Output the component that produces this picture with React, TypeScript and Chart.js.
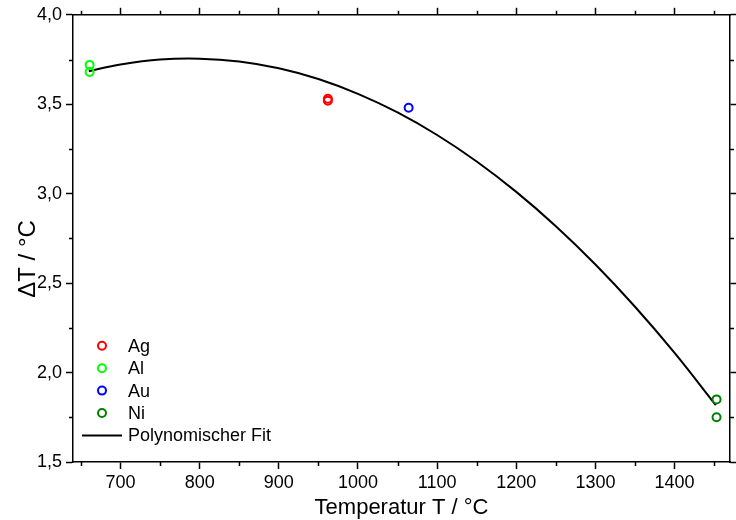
import { useEffect, useRef } from "react";
import { Chart, registerables } from "chart.js";

Chart.register(...registerables);

// Data (Temperatur T / °C  vs  ΔT / °C)
const agT = [962, 962];
const agDT = [3.53, 3.52];
const alT = [661, 661];
const alDT = [3.72, 3.68];
const auT = [1064];
const auDT = [3.48];
const niT = [1453, 1453];
const niDT = [1.85, 1.75];

const fitT = [660, 700, 750, 800, 850, 900, 950, 1000, 1050, 1100, 1150, 1200, 1250, 1300, 1350, 1400, 1452];
const fitDT = [3.685, 3.722, 3.75, 3.755, 3.739, 3.701, 3.641, 3.558, 3.454, 3.328, 3.18, 3.01, 2.818, 2.604, 2.368, 2.11, 1.818];

const xMajor = [700, 800, 900, 1000, 1100, 1200, 1300, 1400];
const xMinor = [650, 750, 850, 950, 1050, 1150, 1250, 1350, 1450];
const yMajor = [1.5, 2.0, 2.5, 3.0, 3.5, 4.0];
const yMinor = [1.75, 2.25, 2.75, 3.25, 3.75];

const xTitle = "Temperatur T / °C";
const yTitle = "ΔT / °C";
const fitLabel = "Polynomischer Fit";

const FONT = "'Liberation Sans', Arial, sans-serif";

const toPts = (xs: number[], ys: number[]) => xs.map((x, i) => ({ x, y: ys[i] }));

const extrasPlugin = {
  id: "extras",
  afterDraw(chart: any) {
    const ctx = chart.ctx;
    const area = chart.chartArea;
    const sx = chart.scales.x;
    const sy = chart.scales.y;
    ctx.save();
    // minor ticks
    ctx.strokeStyle = "#000";
    ctx.lineWidth = 1.5;
    const mLen = 4;
    ctx.beginPath();
    xMinor.forEach((v) => {
      const p = Math.round(sx.getPixelForValue(v)) + 0.5;
      ctx.moveTo(p, area.bottom);
      ctx.lineTo(p, area.bottom + mLen);
      ctx.moveTo(p, area.top);
      ctx.lineTo(p, area.top - mLen);
    });
    yMinor.forEach((v) => {
      const p = Math.round(sy.getPixelForValue(v)) + 0.5;
      ctx.moveTo(area.left, p);
      ctx.lineTo(area.left - mLen, p);
      ctx.moveTo(area.right, p);
      ctx.lineTo(area.right + mLen, p);
    });
    ctx.stroke();

    // axis titles
    ctx.fillStyle = "#000";
    ctx.font = `22px ${FONT}`;
    ctx.textAlign = "center";
    ctx.textBaseline = "middle";
    ctx.fillText(xTitle, (area.left + area.right) / 2, 508);
    ctx.save();
    ctx.translate(28, 259);
    ctx.rotate(-Math.PI / 2);
    ctx.font = `24px ${FONT}`;
    ctx.fillText(yTitle, 0, 0);
    ctx.restore();

    // legend
    const ds = chart.data.datasets;
    const rowH = 22.4;
    let y = area.top + 331;
    ctx.font = `18px ${FONT}`;
    ctx.textAlign = "left";
    ds.forEach((d: any) => {
      ctx.strokeStyle = d.borderColor;
      ctx.lineWidth = d.borderWidth;
      ctx.beginPath();
      if (d.showLine) {
        ctx.moveTo(area.left + 9, y);
        ctx.lineTo(area.left + 49, y);
      } else {
        ctx.arc(area.left + 29, y, d.pointRadius, 0, Math.PI * 2);
      }
      ctx.stroke();
      ctx.fillStyle = "#000";
      ctx.fillText(d.label, area.left + 55, y + 1);
      y += rowH;
    });
    ctx.restore();
  },
};

export default function App() {
  const ref = useRef<HTMLCanvasElement | null>(null);

  useEffect(() => {
    if (!ref.current) return;
    const fmtY = (v: any) => Number(v).toFixed(1).replace(".", ",");
    const fmtX = (v: any) => String(v);
    const common = {
      grid: { drawOnChartArea: false, drawTicks: true, tickLength: 7, color: "#000", tickWidth: 1.5 },
      border: { display: true, color: "#000", width: 1.5 },
    };
    const pointDs = (label: string, xs: number[], ys: number[], color: string) => ({
      label,
      data: toPts(xs, ys),
      borderColor: color,
      backgroundColor: "rgba(0,0,0,0)",
      pointRadius: 4,
      pointHoverRadius: 4,
      borderWidth: 2,
      pointStyle: "circle",
      showLine: false,
    });
    const chart = new Chart(ref.current, {
      type: "scatter",
      data: {
        datasets: [
          pointDs("Ag", agT, agDT, "#ff0000"),
          pointDs("Al", alT, alDT, "#00ff00"),
          pointDs("Au", auT, auDT, "#0000ff"),
          pointDs("Ni", niT, niDT, "#008000"),
          {
            label: fitLabel,
            data: toPts(fitT, fitDT),
            borderColor: "#000000",
            backgroundColor: "#000000",
            borderWidth: 2,
            pointRadius: 0,
            showLine: true,
            tension: 0.4,
          } as any,
        ],
      },
      options: {
        responsive: false,
        animation: false,
        maintainAspectRatio: false,
        layout: { padding: 0 },
        plugins: { legend: { display: false }, tooltip: { enabled: false } },
        scales: {
          x: {
            type: "linear",
            position: "bottom",
            min: 640,
            max: 1470,
            afterBuildTicks: (s: any) => { s.ticks = xMajor.map((v) => ({ value: v })); },
            afterFit: (s: any) => { s.height = 58; },
            ticks: { color: "#000", font: { family: FONT, size: 18 }, padding: 3, maxRotation: 0, autoSkip: false, callback: fmtX },
            ...common,
          },
          x2: {
            type: "linear",
            position: "top",
            min: 640,
            max: 1470,
            afterBuildTicks: (s: any) => { s.ticks = xMajor.map((v) => ({ value: v })); },
            afterFit: (s: any) => { s.height = 14; },
            ticks: { display: false },
            ...common,
          },
          y: {
            type: "linear",
            position: "left",
            min: 1.5,
            max: 4.0,
            afterBuildTicks: (s: any) => { s.ticks = yMajor.map((v) => ({ value: v })); },
            afterFit: (s: any) => { s.width = 73; },
            ticks: { color: "#000", font: { family: FONT, size: 18 }, padding: 4, autoSkip: false, callback: fmtY },
            ...common,
          },
          y2: {
            type: "linear",
            position: "right",
            min: 1.5,
            max: 4.0,
            afterBuildTicks: (s: any) => { s.ticks = yMajor.map((v) => ({ value: v })); },
            afterFit: (s: any) => { s.width = 2; },
            ticks: { display: false },
            ...common,
          },
        } as any,
      },
      plugins: [extrasPlugin],
    });
    return () => chart.destroy();
  }, []);

  return (
    <div style={{ position: "fixed", left: 0, top: 0, width: 736, height: 520, background: "#fff" }}>
      <canvas ref={ref} width={736} height={520} style={{ display: "block" }} />
    </div>
  );
}
